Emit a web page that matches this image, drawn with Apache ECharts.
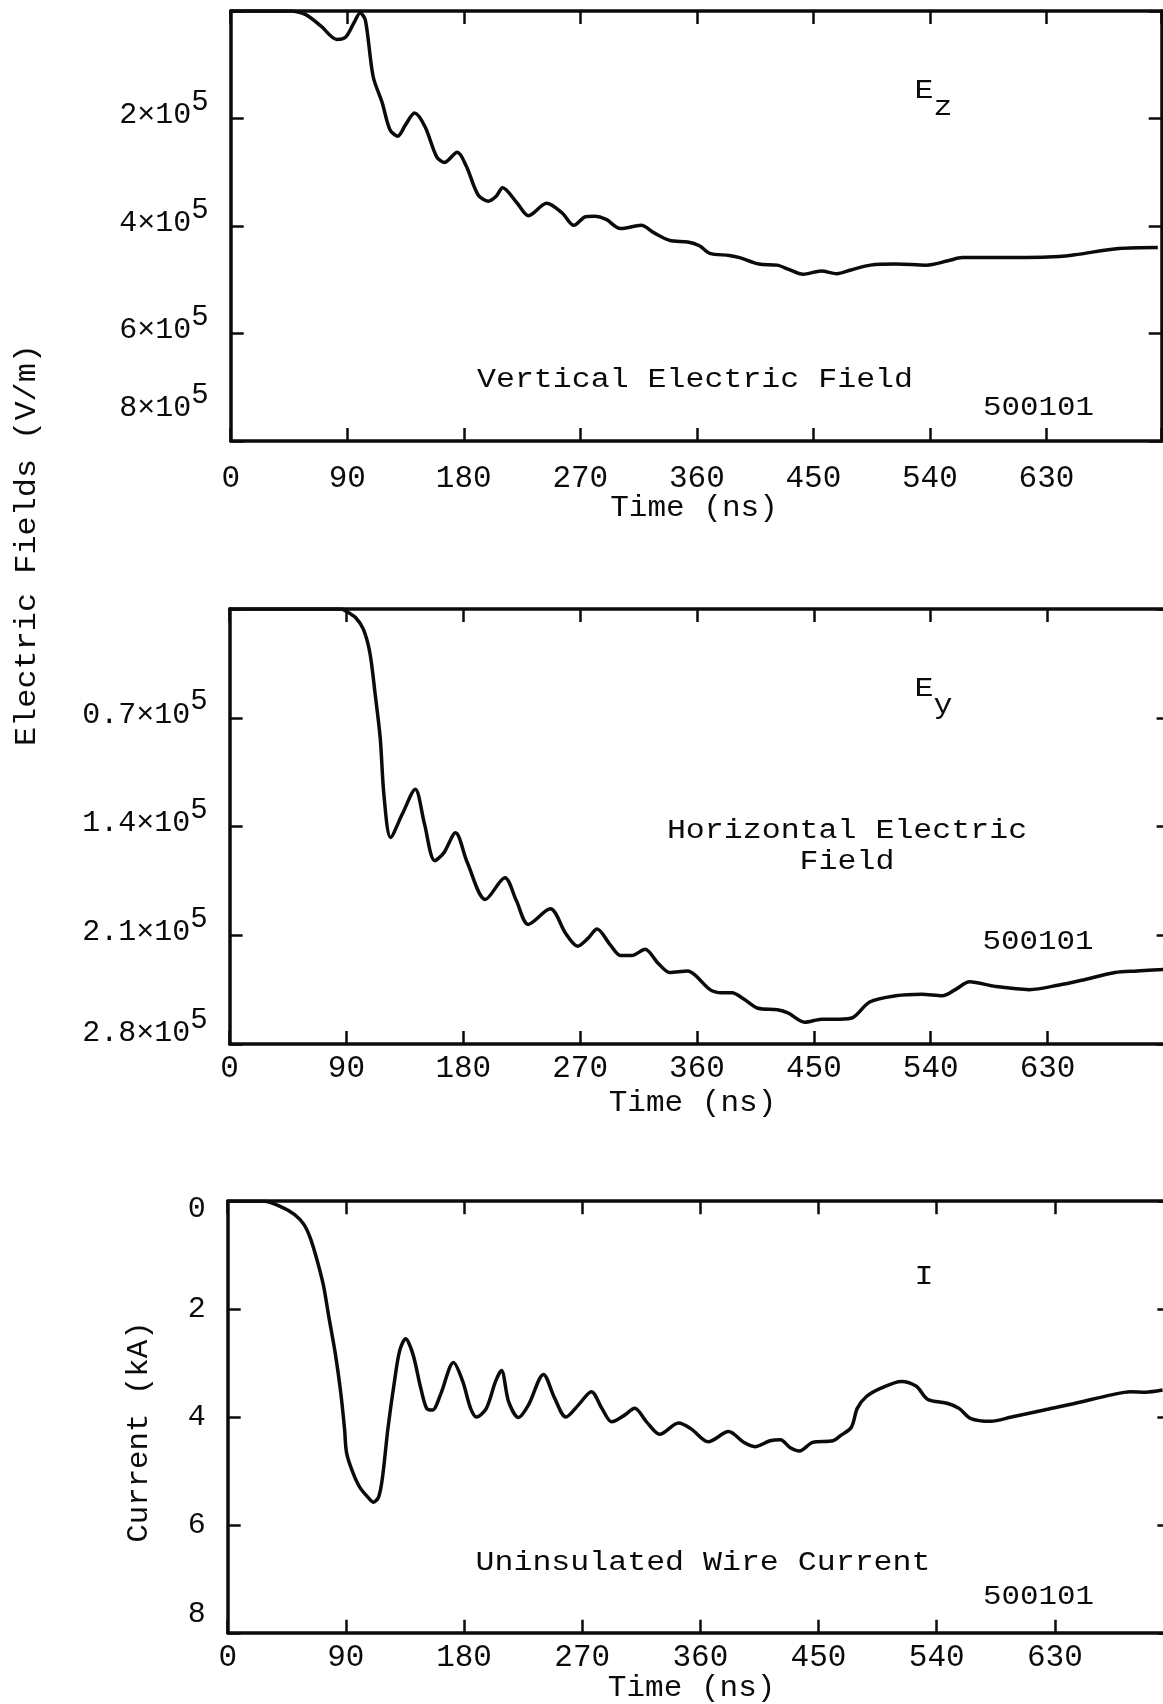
<!DOCTYPE html>
<html>
<head>
<meta charset="utf-8">
<script src="https://cdn.jsdelivr.net/npm/echarts@6/dist/echarts.min.js"></script>
<style>
html,body{margin:0;padding:0;background:#ffffff;}
#chart{width:1163px;height:1704px;}
</style>
</head>
<body>
<div id="chart"></div>
<script>
// ---------------- DATA ----------------
// Time axis tick labels (ns)
const timeTicks = [0, 90, 180, 270, 360, 450, 540, 630];

// Panel 1: vertical electric field Ez, in units of 1e5 V/m (axis inverted: 0 at top)
const ezTime  = [0, 46, 58, 70, 82, 89, 95, 100, 104, 110, 117, 123, 129, 135, 142, 150, 159, 165, 175, 182, 191, 199, 205, 210, 221, 230, 244, 256, 265, 274, 281, 290, 301, 317, 327, 339, 353, 362, 370, 385, 393, 408, 422, 431, 442, 456, 468, 479, 494, 514, 537, 554, 565, 586, 614, 640, 654, 686, 716];
const ezField = [0, 0, 0.07, 0.29, 0.53, 0.48, 0.23, 0.04, 0.17, 1.22, 1.71, 2.21, 2.33, 2.12, 1.90, 2.15, 2.71, 2.82, 2.63, 2.89, 3.42, 3.54, 3.45, 3.29, 3.57, 3.81, 3.58, 3.76, 3.99, 3.83, 3.82, 3.88, 4.05, 3.99, 4.13, 4.27, 4.30, 4.37, 4.51, 4.55, 4.59, 4.71, 4.73, 4.81, 4.90, 4.84, 4.89, 4.82, 4.73, 4.71, 4.73, 4.65, 4.59, 4.59, 4.59, 4.57, 4.53, 4.42, 4.40];
const ezTickMantissa = ['', '2', '4', '6', '8'];          // ×10^5 V/m

// Panel 2: horizontal electric field Ey, in units of 1e5 V/m
const eyTime  = [0, 86, 90, 97, 103, 108, 112, 116, 119, 124, 133, 143, 150, 158, 165, 174, 183, 197, 212, 221, 230, 247, 259, 268, 276, 283, 293, 301, 310, 320, 330, 339, 353, 359, 370, 379, 387, 396, 407, 422, 430, 443, 456, 470, 480, 493, 513, 533, 549, 559, 570, 590, 616, 639, 656, 682, 699, 719];
const eyField = [0, 0, 0.015, 0.055, 0.13, 0.28, 0.54, 0.83, 1.21, 1.47, 1.32, 1.16, 1.38, 1.62, 1.57, 1.44, 1.63, 1.87, 1.73, 1.88, 2.03, 1.93, 2.09, 2.17, 2.12, 2.06, 2.16, 2.23, 2.23, 2.19, 2.28, 2.34, 2.33, 2.36, 2.45, 2.47, 2.47, 2.51, 2.57, 2.58, 2.60, 2.66, 2.64, 2.64, 2.63, 2.53, 2.49, 2.48, 2.49, 2.45, 2.40, 2.43, 2.45, 2.42, 2.39, 2.34, 2.33, 2.32];
const eyTickMantissa = ['', '0.7', '1.4', '2.1', '2.8'];  // ×10^5 V/m

// Panel 3: uninsulated wire current, kA (axis inverted: 0 at top)
const iTime    = [0, 28, 42, 51, 58, 63, 68.5, 73, 77, 82, 86, 89, 90.5, 95, 100.5, 108, 111, 115, 118, 122, 127, 131, 135.5, 141, 147, 151.5, 156, 162, 172, 179, 185, 189.5, 197, 204, 208.5, 214, 221.5, 229, 240.5, 249, 257.5, 267, 277, 285, 292.5, 302, 310, 319, 329, 343.5, 353, 366, 381.5, 393, 401.5, 413, 421, 428.5, 435.5, 445.5, 461, 466.5, 475, 479.5, 486.5, 498, 513, 524.5, 533, 548.5, 557, 566, 581, 597, 622, 645, 673, 687.5, 699, 712];
const iCurrent = [0, 0, 0.12, 0.25, 0.43, 0.69, 1.13, 1.57, 2.14, 2.83, 3.53, 4.22, 4.66, 5.01, 5.30, 5.52, 5.58, 5.48, 5.10, 4.22, 3.34, 2.77, 2.55, 2.83, 3.46, 3.84, 3.87, 3.59, 2.99, 3.34, 3.84, 4.00, 3.84, 3.34, 3.14, 3.72, 4.01, 3.78, 3.21, 3.65, 4.00, 3.78, 3.53, 3.84, 4.09, 3.97, 3.84, 4.09, 4.32, 4.11, 4.22, 4.46, 4.27, 4.47, 4.55, 4.44, 4.42, 4.57, 4.63, 4.47, 4.44, 4.35, 4.19, 3.84, 3.62, 3.46, 3.34, 3.43, 3.67, 3.75, 3.84, 4.03, 4.08, 4.00, 3.87, 3.75, 3.59, 3.53, 3.54, 3.50];
const iTickLabels = ['0', '2', '4', '6', '8'];            // kA

// ---------------- STYLE / LAYOUT ----------------
const FONT = '"Liberation Mono","DejaVu Sans Mono",monospace';
const INK = '#0b0b0b';

function zip(a, b) { return a.map((t, i) => [t, b[i]]); }

function tokenStyle(size, pad) {
  return {fontFamily: FONT, fontSize: size, color: INK, fill: INK, padding: pad, verticalAlign: 'middle'};
}

const yRich = {
  b:  tokenStyle(30, [0, 0, 6, 0]),
  s:  tokenStyle(29, [0, 0, 32, 0]),
  b8: tokenStyle(30, [0, 0, 66, 0]),
  s8: tokenStyle(29, [0, 0, 92, 0]),
  b28: tokenStyle(30, [0, 0, 22, 0]),
  s28: tokenStyle(29, [0, 0, 48, 0]),
  d0: tokenStyle(30, [16, 0, 0, 0]),
  d8: tokenStyle(30, [0, 0, 38, 0])
};

function xFmt(v) {
  const i = timeTicks.indexOf(Math.round(v));
  return (i >= 0 && Math.abs(v - timeTicks[i]) < 1e-6) ? String(timeTicks[i]) : '';
}
function ezFmt(v) {
  const i = Math.round(v / 2);
  const m = ezTickMantissa[i];
  if (!m) return '';
  if (i === ezTickMantissa.length - 1) return '{b8|' + m + '×10}{s8|5}';
  return '{b|' + m + '×10}{s|5}';
}
function eyFmt(v) {
  const i = Math.round(v / 0.7);
  const m = eyTickMantissa[i];
  if (!m) return '';
  if (i === eyTickMantissa.length - 1) return '{b28|' + m + '×10}{s28|5}';
  return '{b|' + m + '×10}{s|5}';
}
function iFmt(v) {
  const i = Math.round(v / 2);
  const m = iTickLabels[i];
  if (m === undefined) return '';
  if (i === 0) return '{d0|' + m + '}';
  if (i === iTickLabels.length - 1) return '{d8|' + m + '}';
  return m;
}

const panels = [
  {grid: {left: 230.7, top: 10.9, width: 931, height: 430}, xMax: 719, yMax: 8, yInt: 2, xMargin: 22, yFmt: ezFmt, t: ezTime, v: ezField},
  {grid: {left: 229.6, top: 609, width: 940, height: 435}, xMax: 724, yMax: 2.8, yInt: 0.7, xMargin: 9, yFmt: eyFmt, t: eyTime, v: eyField},
  {grid: {left: 227.7, top: 1201.2, width: 942.7, height: 431.6}, xMax: 718, yMax: 8, yInt: 2, xMargin: 9, yFmt: iFmt, t: iTime, v: iCurrent}
];

const axisLine = {show: true, onZero: false, lineStyle: {color: INK, width: 3.5}};
const axisTick = {show: true, inside: true, length: 13, lineStyle: {color: INK, width: 2.5}};

const grids = [], xAxes = [], yAxes = [], series = [];
panels.forEach((p, gi) => {
  grids.push(Object.assign({containLabel: false, outerBoundsMode: 'none', show: false}, p.grid));
  const xb = {type: 'value', gridIndex: gi, min: 0, max: p.xMax, interval: 90, axisLine, axisTick, splitLine: {show: false}};
  xAxes.push(Object.assign({}, xb, {position: 'bottom', axisLabel: {show: true, margin: p.xMargin, color: INK, fontFamily: FONT, fontSize: 31, formatter: xFmt}}));
  xAxes.push(Object.assign({}, xb, {position: 'top', axisLabel: {show: false}}));
  const yb = {type: 'value', gridIndex: gi, min: 0, max: p.yMax, interval: p.yInt, inverse: true, axisLine, axisTick, splitLine: {show: false}};
  yAxes.push(Object.assign({}, yb, {position: 'left', axisLabel: {show: true, margin: 22, color: INK, fontFamily: FONT, fontSize: 30, formatter: p.yFmt, rich: yRich}}));
  yAxes.push(Object.assign({}, yb, {position: 'right', axisLabel: {show: false}}));
  series.push({type: 'line', xAxisIndex: 2 * gi, yAxisIndex: 2 * gi, data: zip(p.t, p.v), symbol: 'none', showSymbol: false, smooth: 0.3, lineStyle: {color: INK, width: 3.5}, silent: true});
});

function txt(text, x, y, size, sx, opts) {
  opts = opts || {};
  const al = opts.align || 'center';
  return {type: 'text', x: x, y: y, scaleX: sx, rotation: opts.rot || 0, silent: true,
    style: {text: text, fill: INK, fontFamily: FONT, fontSize: size, align: al, textAlign: al,
            verticalAlign: 'middle', textVerticalAlign: 'middle', rich: opts.rich}};
}
const subRich = {s: {fontFamily: FONT, fontSize: 27, fill: INK, color: INK, padding: [34, 0, 0, 0], verticalAlign: 'middle'}};

const graphics = [
  txt('Electric Fields (V/m)', 27, 545, 29, 1.1, {rot: Math.PI / 2}),
  txt('Current (kA)', 139, 1432, 29, 1.06, {rot: Math.PI / 2}),
  // panel 1
  txt('E{s|z}', 914.5, 91, 27, 1.17, {align: 'left', rich: subRich}),
  txt('Vertical Electric Field', 695, 380, 27, 1.17),
  txt('500101', 1038.5, 408, 28, 1.1),
  txt('Time (ns)', 694, 508, 29, 1.07),
  // panel 2
  txt('E{s|y}', 914.5, 689, 27, 1.17, {align: 'left', rich: subRich}),
  txt('Horizontal Electric', 847, 831, 27, 1.17),
  txt('Field', 847, 862, 27, 1.17),
  txt('500101', 1038, 942, 28, 1.1),
  txt('Time (ns)', 692.5, 1103, 29, 1.07),
  // panel 3
  txt('I', 924, 1277, 27, 1.17),
  txt('Uninsulated Wire Current', 703, 1563, 27, 1.17),
  txt('500101', 1038.5, 1597, 28, 1.1),
  txt('Time (ns)', 691.6, 1688, 29, 1.07)
];

const chart = echarts.init(document.getElementById('chart'), null, {renderer: 'canvas'});
chart.setOption({
  animation: false,
  backgroundColor: '#ffffff',
  grid: grids,
  xAxis: xAxes,
  yAxis: yAxes,
  series: series,
  graphic: graphics
});
</script>
</body>
</html>
